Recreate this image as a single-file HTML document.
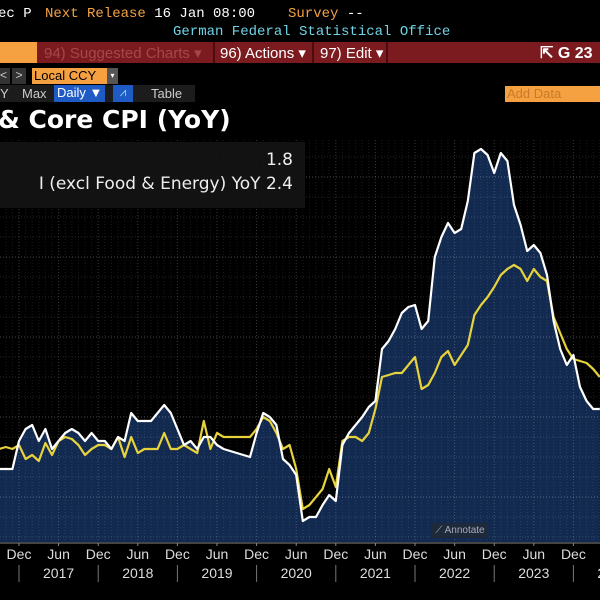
<!DOCTYPE html>
<html><head><meta charset="utf-8">
<style>
body{margin:0;background:#000;width:600px;height:600px;overflow:hidden;font-family:"Liberation Sans",sans-serif;position:relative}
.abs{position:absolute;white-space:nowrap}
.mono{font-family:"Liberation Mono",monospace;font-size:14px}
</style></head><body>
<div class="abs mono" style="left:-2px;top:6px;color:#fff">ec P</div>
<div class="abs mono" style="left:45px;top:6px;color:#f5a142">Next Release <span style="color:#fff">16 Jan 08:00</span></div>
<div class="abs mono" style="left:288px;top:6px;color:#f5a142">Survey <span style="color:#fff">--</span></div>
<div class="abs mono" style="left:173px;top:24px;color:#6fd3e6">German Federal Statistical Office</div>

<div class="abs" style="left:0;top:42px;width:600px;height:21px;background:#7b1b1f"></div>
<div class="abs" style="left:0;top:42px;width:37px;height:21px;background:#f5a142"></div>
<div class="abs" style="left:44px;top:44px;color:#a8474a;font-size:15px">94) Suggested Charts ▾</div>
<div class="abs" style="left:213px;top:42px;width:2px;height:21px;background:#4a0c0e"></div>
<div class="abs" style="left:220px;top:44px;color:#fff;font-size:15px">96) Actions ▾</div>
<div class="abs" style="left:312px;top:42px;width:2px;height:21px;background:#4a0c0e"></div>
<div class="abs" style="left:320px;top:44px;color:#fff;font-size:15px">97) Edit ▾</div>
<div class="abs" style="left:386px;top:42px;width:2px;height:21px;background:#4a0c0e"></div>
<div class="abs" style="left:540px;top:43px;color:#fff;font-size:16px;font-weight:bold">⇱ G 23</div>

<div class="abs" style="left:0;top:68px;width:10px;height:16px;background:#333;color:#ccc;font-size:12px">&lt;</div>
<div class="abs" style="left:12px;top:68px;width:14px;height:16px;background:#333;color:#ccc;font-size:12px;text-align:center">&gt;</div>
<div class="abs" style="left:32px;top:68px;width:73px;height:16px;background:#f5a142;color:#000;font-size:13px;padding-left:2px">Local CCY</div>
<div class="abs" style="left:107px;top:68px;width:11px;height:16px;background:#555;color:#fff;font-size:8px;text-align:center;line-height:16px">▾</div>

<div class="abs" style="left:0;top:85px;width:195px;height:17px;background:#1c1c1c"></div>
<div class="abs" style="left:0;top:86px;color:#ccc;font-size:13px">Y</div>
<div class="abs" style="left:22px;top:86px;color:#ccc;font-size:13px">Max</div>
<div class="abs" style="left:54px;top:85px;width:51px;height:17px;background:#1f5bc4;color:#fff;font-size:13px;padding-left:3px;box-sizing:border-box">Daily ▼</div>
<div class="abs" style="left:113px;top:85px;width:20px;height:17px;background:#1f5bc4;color:#9cf;font-size:12px;text-align:center">⩘</div>
<div class="abs" style="left:151px;top:86px;color:#ccc;font-size:13px">Table</div>
<div class="abs" style="left:505px;top:86px;width:95px;height:16px;background:#f5a142;color:#c87a28;font-size:13px;padding-left:2px">Add Data</div>

<div class="abs" style="left:-2px;top:105px;color:#fff;font-size:25px;font-weight:bold;font-family:'DejaVu Sans',sans-serif">&amp; Core CPI (YoY)</div>

<svg id="chart" class="abs" style="left:0;top:0" width="600" height="600"></svg>

<div class="abs" style="left:0;top:142px;width:305px;height:66px;background:rgba(20,20,20,0.92)"></div>
<div class="abs" style="left:0;top:150px;width:293px;text-align:right;color:#eee;font-size:17px;font-family:'DejaVu Sans',sans-serif">1.8</div>
<div class="abs" style="left:0;top:174px;width:293px;text-align:right;color:#eee;font-size:17px;font-family:'DejaVu Sans',sans-serif">I (excl Food &amp; Energy) YoY 2.4</div>

<div class="abs" style="left:432px;top:523px;width:56px;height:15px;background:#1e2a3a;color:#aab;font-size:10px;line-height:15px;text-align:center">⟋ Annotate</div>

<script>
const months = 92; // Sep 2016 onwards, monthly
const headline = [0.7,0.7,0.7,1.4,1.7,1.8,1.4,1.7,1.2,1.4,1.6,1.7,1.6,1.4,1.6,1.4,1.4,1.2,1.5,1.4,2.1,1.9,1.9,1.9,2.1,2.3,2.1,1.7,1.3,1.4,1.2,1.5,1.5,1.3,1.2,1.15,1.1,1.05,1.0,1.6,2.1,2.0,1.8,0.95,0.8,0.55,-0.6,-0.5,-0.5,-0.2,0.05,-0.1,1.3,1.6,1.8,2.0,2.25,2.4,3.7,3.9,4.2,4.6,4.75,4.8,4.2,4.4,6.0,6.5,6.85,6.6,6.7,7.4,8.6,8.7,8.55,8.1,8.6,8.4,7.3,6.8,6.15,6.3,6.1,5.55,4.4,3.7,3.3,3.55,2.75,2.4,2.2,2.2];
const core = [1.2,1.25,1.2,1.3,0.95,1.05,0.9,1.35,1.05,1.4,1.5,1.45,1.3,1.05,1.2,1.3,1.3,1.2,1.5,1.0,1.5,1.1,1.2,1.2,1.2,1.6,1.2,1.2,1.3,1.2,1.1,1.9,1.2,1.6,1.5,1.5,1.5,1.5,1.5,1.7,2.0,1.9,1.6,1.2,1.3,0.7,-0.3,-0.2,0.0,0.2,0.7,0.25,1.4,1.5,1.5,1.4,1.6,2.2,3.0,3.05,3.1,3.1,3.3,3.5,2.7,2.8,3.1,3.5,3.65,3.3,3.55,3.8,4.55,4.8,5.0,5.25,5.55,5.7,5.8,5.7,5.4,5.7,5.5,5.4,4.5,4.1,3.7,3.45,3.4,3.35,3.2,3.0];
const tickLabels = ["Dec","Jun"];
const yearLabels = ["2017","2018","2019","2020","2021","2022","2023","2024"];
const gridValues = [-1,-0.5,0,0.5,1,1.5,2,2.5,3,3.5,4,4.5,5,5.5,6,6.5,7,7.5,8,8.5,9];

const NS="http://www.w3.org/2000/svg";
const svg=document.getElementById('chart');
const plotTop=140, plotBottom=542;
function xOf(i){return -0.8+6.6*i;}
function yOf(v){return 497-40*v;}
function mk(tag,attrs){const e=document.createElementNS(NS,tag);for(const k in attrs)e.setAttribute(k,attrs[k]);svg.appendChild(e);return e;}

// area under headline
let d='M'+xOf(0)+','+plotBottom;
headline.forEach((v,i)=>{d+=' L'+xOf(i).toFixed(1)+','+yOf(v).toFixed(1);});
d+=' L'+xOf(headline.length-1)+','+plotBottom+' Z';
const area=mk('path',{d:d,fill:'#132a50'});



// grid over everything (semi-transparent)
gridValues.forEach(v=>{
  const y=yOf(v); if(y<plotTop||y>plotBottom)return;
  const major=Number.isInteger(v)&&v%2===0;
  const g=mk('line',{x1:0,x2:600,y1:y,y2:y,stroke:'#fff','stroke-opacity':major?0.28:0.14,'stroke-width':1,'stroke-dasharray':'1,2'});
  
  
});
for(let i=0;i<months+4;i++){
  const x=xOf(i);
  const g=mk('line',{x1:x,x2:x,y1:plotTop,y2:plotBottom,stroke:'#fff','stroke-opacity':(i%6===3)?0.22:0.1,'stroke-width':1,'stroke-dasharray':'1,2'});
  
  
}

function line(arr,color,name){
  const p=arr.map((v,i)=>(i?'L':'M')+xOf(i).toFixed(1)+','+yOf(v).toFixed(1)).join(' ');
  const e=mk('path',{d:p,fill:'none',stroke:color,'stroke-width':2.2,'stroke-linejoin':'round'});
  
  
}
line(core,'#e6d23c','core-cpi-line');
line(headline,'#ffffff','headline-cpi-line');

// x axis
const ax=mk('line',{x1:0,x2:600,y1:plotBottom+1,y2:plotBottom+1,stroke:'#888','stroke-width':1});


for(let i=3;i<months+6;i+=6){
  const x=xOf(i);
  const lab=tickLabels[((i-3)/6)%2];
  const t=mk('text',{x:x,y:559,fill:'#ddd','font-size':14,'text-anchor':'middle','font-family':'Liberation Sans, sans-serif'});
  t.textContent=lab;
  
  
  mk('line',{x1:x,x2:x,y1:plotBottom+1,y2:plotBottom+4,stroke:'#888'});
}
yearLabels.forEach((yl,k)=>{
  const x=xOf(3+12*k+6);
  const t=mk('text',{x:x,y:578,fill:'#ddd','font-size':14,'text-anchor':'middle','font-family':'Liberation Sans, sans-serif'});
  t.textContent=yl;
  
  
  const sx=xOf(3+12*k);
  const s=mk('line',{x1:sx,x2:sx,y1:565,y2:582,stroke:'#777','stroke-width':1});
  
  
});
</script>
</body></html>
